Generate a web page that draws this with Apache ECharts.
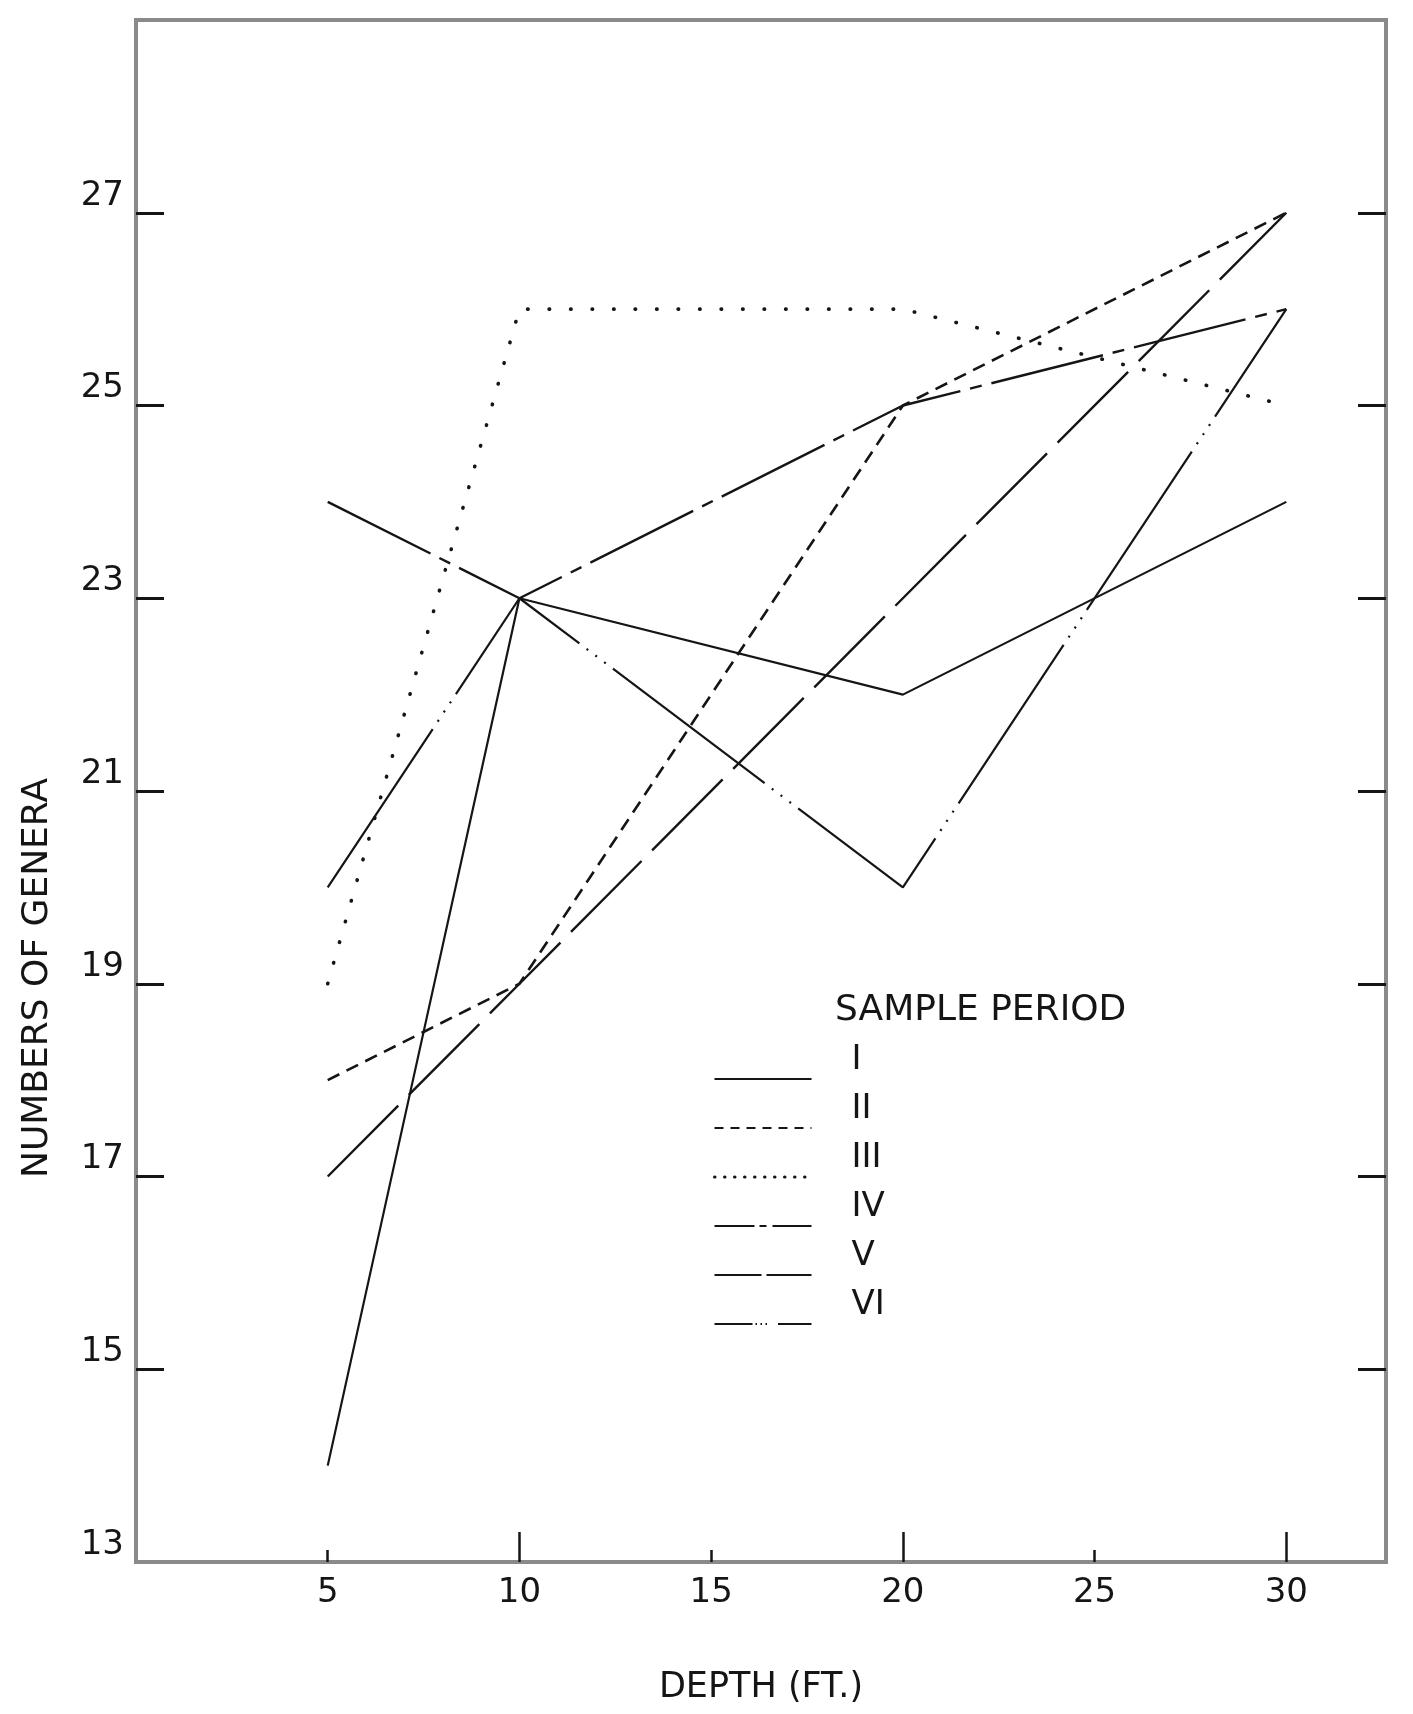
<!DOCTYPE html>
<html>
<head>
<meta charset="utf-8">
<script src="https://cdn.jsdelivr.net/npm/echarts@6/dist/echarts.min.js"></script>
<style>
  html, body { margin: 0; padding: 0; background: #fff; }
  #chart { width: 1413px; height: 1714px; }
</style>
</head>
<body>
<div id="chart"></div>
<script>
// ---- data ----
const depths = [5, 10, 20, 30];
const seriesNames = ['I', 'II', 'III', 'IV', 'V', 'VI'];
const periodI   = [14, 23, 22, 24];
const periodII  = [18, 19, 25, 27];
const periodIII = [19, 26, 26, 25];
const periodIV  = [24, 23, 25, 26];
const periodV   = [17, 19, 23, 27];
const periodVI  = [20, 23, 20, 26];
const xTicks = [5, 10, 15, 20, 25, 30];
const xShortTicks = [5, 15, 25];
const xLongTicks = [10, 20, 30];
const yTicks = [13, 15, 17, 19, 21, 23, 25, 27];
const yTickMarks = [15, 17, 19, 21, 23, 25, 27];

const values = [periodI, periodII, periodIII, periodIV, periodV, periodVI];

// ---- styles ----
const FONT = 'DejaVu Sans';
const INK = '#151515';
const plotDash = [
  'solid',
  [13, 8],
  [0.5, 21],
  [115, 10, 12, 10],
  [100, 15],
  [190, 9, 2, 9, 2, 9, 2, 9]
];
const plotWidth = [2.2, 2.6, 3.6, 2.4, 2.4, 2.2];
const legendDash = [
  'solid',
  [9, 7],
  [0.5, 9.5],
  [40, 5, 7, 6, 60],
  [47, 5],
  [38, 3, 1.5, 3.5, 1.5, 3.5, 1.5, 11, 60]
];

const series = seriesNames.map((name, i) => ({
  name: name,
  type: 'line',
  xAxisIndex: 0,
  yAxisIndex: 0,
  symbol: 'none',
  silent: true,
  color: INK,
  itemStyle: { color: INK },
  lineStyle: {
    color: INK,
    width: plotWidth[i],
    type: plotDash[i],
    cap: i === 2 ? 'round' : 'butt'
  },
  data: depths.map((d, k) => [d, values[i][k]])
}));

const chart = echarts.init(document.getElementById('chart'), null, { renderer: 'canvas' });
chart.setOption({
  animation: false,
  backgroundColor: '#ffffff',
  textStyle: { fontFamily: FONT },
  grid: {
    left: 136, right: 27, top: 20, bottom: 152,
    show: true, borderColor: '#8a8a8a', borderWidth: 4, backgroundColor: 'transparent'
  },
  title: {
    text: 'SAMPLE PERIOD',
    left: 835, top: 993, padding: 0,
    textStyle: { fontFamily: FONT, fontSize: 36, fontWeight: 'normal', color: INK }
  },
  legend: {
    orient: 'vertical',
    left: 713, top: 1043, padding: 0,
    itemWidth: 97, itemHeight: 20, itemGap: -23,
    selectedMode: false,
    itemStyle: { opacity: 0 },
    data: seriesNames.map((n, i) => ({
      name: n,
      itemStyle: { opacity: 0 },
      lineStyle: { type: legendDash[i], width: i === 2 ? 3 : 2, color: INK, cap: i === 2 ? 'round' : 'butt' }
    })),
    formatter: '{t|{name}}',
    textStyle: {
      fontFamily: FONT, fontSize: 34, color: INK,
      rich: {
        t: { fontFamily: FONT, fontSize: 34, color: INK, lineHeight: 34, padding: [0, 0, 38, 35] }
      }
    }
  },
  xAxis: [
    {
      type: 'value', position: 'bottom', min: 0, max: 32.6, interval: 5,
      axisLine: { show: false, onZero: false },
      axisTick: { show: true, inside: true, length: 12, customValues: xShortTicks, lineStyle: { color: INK, width: 2.5 } },
      splitLine: { show: false },
      axisLabel: {
        fontFamily: FONT, fontSize: 34, color: INK, margin: 14,
        customValues: xTicks
      },
      name: 'DEPTH (FT.)', nameLocation: 'middle', nameGap: 108,
      nameTextStyle: { fontFamily: FONT, fontSize: 35, color: INK }
    },
    {
      type: 'value', position: 'bottom', min: 0, max: 32.6, interval: 10,
      axisLine: { show: false, onZero: false },
      axisTick: { show: true, inside: true, length: 30, customValues: xLongTicks, lineStyle: { color: INK, width: 2.5 } },
      splitLine: { show: false },
      axisLabel: { show: false }
    }
  ],
  yAxis: [
    {
      type: 'value', position: 'left', min: 13, max: 29, interval: 2,
      axisLine: { show: false, onZero: false },
      axisTick: { show: true, inside: true, length: 28, customValues: yTickMarks, lineStyle: { color: INK, width: 3 } },
      splitLine: { show: false },
      axisLabel: {
        fontFamily: FONT, fontSize: 34, color: INK, margin: 12, verticalAlign: 'bottom',
        customValues: yTicks
      }
    },
    {
      type: 'value', position: 'right', min: 13, max: 29, interval: 2,
      axisLine: { show: false, onZero: false },
      axisTick: { show: true, inside: true, length: 28, customValues: yTickMarks, lineStyle: { color: INK, width: 3 } },
      splitLine: { show: false },
      axisLabel: { show: false }
    }
  ],
  graphic: [
    {
      type: 'text', x: 38, y: 978, rotation: Math.PI / 2,
      style: {
        text: 'NUMBERS OF GENERA', fontFamily: FONT, fontSize: 36, fill: INK,
        align: 'center', verticalAlign: 'middle'
      }
    }
  ],
  series: series
});
</script>
</body>
</html>
